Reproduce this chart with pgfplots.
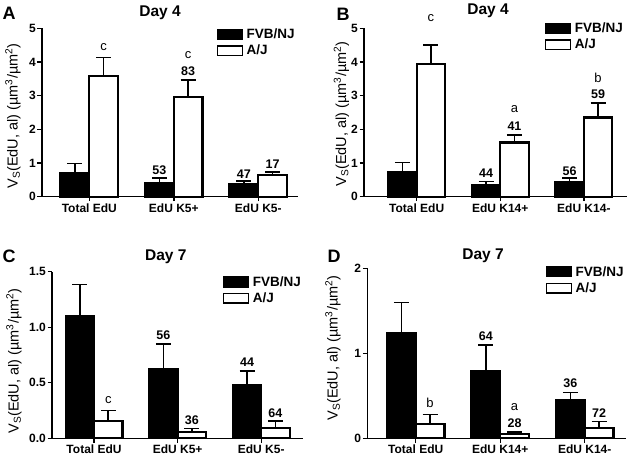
\documentclass[border=0pt]{standalone}
\usepackage{pgfplots}
\pgfplotsset{compat=1.18}
\usepackage{fontspec}
\setmainfont{Liberation Sans}
\newcommand{\tickf}{\fontsize{12}{14}\selectfont\bfseries}
\newcommand{\numf}{\fontsize{12.5}{14}\selectfont\bfseries}
\newcommand{\letf}{\fontsize{13}{14}\selectfont}
\newcommand{\titf}{\fontsize{15.5}{18}\selectfont\bfseries}
\newcommand{\panf}{\fontsize{18}{20}\selectfont\bfseries}
\newcommand{\labf}{\fontsize{14.5}{16}\selectfont}
\newcommand{\legf}{\fontsize{13.5}{15}\selectfont\bfseries}
\newcommand{\ylab}{V\textsubscript{S}(EdU, al) (µm\textsuperscript{3}/µm\textsuperscript{2})}
\pgfplotsset{
  panel/.style={
    scale only axis, clip=false,
    axis lines=left, axis line style={-, line width=1.4pt},
    tick align=outside, major tick length=4.5pt,
    tick style={line width=1.4pt, black},
    xtick={0,1,2},
    ymin=0,
    ticklabel style={font=\tickf},
    yticklabel style={inner sep=1.5pt},
    xticklabel style={inner sep=2pt},
    legend cell align=left,
    legend style={draw=none, fill=none, inner sep=0pt, outer sep=0pt,
      row sep=4pt, column sep=3pt, font=\legf,
      nodes={inner sep=0.5pt, anchor=west}},
  },
  errs/.style={
    error bars/y dir=plus, error bars/y explicit,
    error bars/error bar style={line width=1.6pt, black},
    error bars/error mark options={line width=1.6pt, mark size=7.5pt, black, rotate=90}},
  fvb/.style={ybar, bar width=0.34, bar shift=0pt, fill=black, draw=black, line width=2.2pt, errs},
  aj/.style={ybar, bar width=0.34, bar shift=0pt, fill=white, draw=black, line width=2.2pt, errs},
  numlab/.style={only marks, mark=none, nodes near coords, point meta=explicit symbolic,
    every node near coord/.style={anchor=center, font=\numf, inner sep=0pt, black}},
  letlab/.style={only marks, mark=none, nodes near coords, point meta=explicit symbolic,
    every node near coord/.style={anchor=center, font=\letf, inner sep=0pt, black}},
}
\newcommand{\legimgs}{%
  \addlegendimage{legend image code/.code={\draw[fill=black, draw=black, line width=1.6pt] (0pt,-4.8pt) rectangle (25pt,4.8pt);}}
  \addlegendentry{FVB/NJ}
  \addlegendimage{legend image code/.code={\draw[fill=white, draw=black, line width=1.6pt] (0pt,-4.8pt) rectangle (25pt,4.8pt);}}
  \addlegendentry{A/J}
}
\begin{document}
\begin{tikzpicture}[x=1pt,y=1pt]
\path[use as bounding box] (0,0) rectangle (628,469);

% ---------------- Panel A ----------------
\begin{axis}[panel, at={(42pt,272.3pt)}, anchor=south west,
  width=256pt, height=168.4pt,
  xmin=-0.56, xmax=2.47, ymax=5,
  ytick={0,1,2,3,4,5}, yticklabels={0,1,2,3,4,5},
  xticklabels={Total EdU, EdU K5+, EdU K5-},
  legend style={at={(0.682,1.0)}, anchor=north west}]
\legimgs
\addplot[forget plot, fvb] coordinates {(-0.17,0.71) +- (0,0.28) (0.83,0.40) +- (0,0.15) (1.83,0.37) +- (0,0.10)};
\addplot[forget plot, aj] coordinates {(0.17,3.58) +- (0,0.55) (1.17,2.97) +- (0,0.49) (2.17,0.64) +- (0,0.10)};
\addplot[forget plot, numlab] coordinates {(1.17,3.73) [83] (0.83,0.79) [53] (1.83,0.66) [47] (2.17,0.97) [17]};
\addplot[forget plot, letlab] coordinates {(0.17,4.45) [c] (1.17,4.21) [c]};
\end{axis}

% ---------------- Panel B ----------------
\begin{axis}[panel, at={(364pt,272.3pt)}, anchor=south west,
  width=263.3pt, height=168.4pt,
  xmin=-0.63, xmax=2.52, ymax=5,
  ytick={0,1,2,3,4,5}, yticklabels={0,1,2,3,4,5},
  xticklabels={Total EdU, EdU K14+, EdU K14-},
  legend style={at={(0.687,1.036)}, anchor=north west}]
\legimgs
\addplot[forget plot, fvb] coordinates {(-0.17,0.72) +- (0,0.29) (0.83,0.34) +- (0,0.11) (1.83,0.42) +- (0,0.14)};
\addplot[forget plot, aj] coordinates {(0.17,3.93) +- (0,0.57) (1.17,1.61) +- (0,0.22) (2.17,2.35) +- (0,0.44)};
\addplot[forget plot, numlab] coordinates {(1.17,2.08) [41] (0.83,0.71) [44] (1.83,0.77) [56] (2.17,3.04) [59]};
\addplot[forget plot, letlab] coordinates {(0.17,5.30) [c] (1.17,2.60) [a] (2.17,3.53) [b]};
\end{axis}

% ---------------- Panel C ----------------
\begin{axis}[panel, at={(52pt,30.7pt)}, anchor=south west,
  width=251pt, height=166.6pt,
  xmin=-0.503, xmax=2.50, ymax=1.5,
  ytick={0,0.5,1,1.5}, yticklabels={0.0,0.5,1.0,1.5},
  xticklabels={Total EdU, EdU K5+, EdU K5-},
  legend style={at={(0.68,0.975)}, anchor=north west}]
\legimgs
\addplot[forget plot, fvb] coordinates {(-0.17,1.104) +- (0,0.282) (0.83,0.621) +- (0,0.227) (1.83,0.48) +- (0,0.128)};
\addplot[forget plot, aj] coordinates {(0.17,0.156) +- (0,0.093) (1.17,0.054) +- (0,0.034) (2.17,0.095) +- (0,0.062)};
\addplot[forget plot, numlab] coordinates {(0.83,0.93) [56] (1.17,0.165) [36] (1.83,0.685) [44] (2.17,0.228) [64]};
\addplot[forget plot, letlab] coordinates {(0.17,0.345) [c]};
\end{axis}

% ---------------- Panel D ----------------
\begin{axis}[panel, at={(367.3pt,30.7pt)}, anchor=south west,
  width=258.4pt, height=170pt,
  xmin=-0.573, xmax=2.485, ymax=2,
  ytick={0,1,2}, yticklabels={0,1,2},
  xticklabels={Total EdU, EdU K14+, EdU K14-},
  legend style={at={(0.69,1.015)}, anchor=north west}]
\legimgs
\addplot[forget plot, fvb] coordinates {(-0.17,1.235) +- (0,0.365) (0.83,0.795) +- (0,0.30) (1.83,0.45) +- (0,0.09)};
\addplot[forget plot, aj] coordinates {(0.17,0.168) +- (0,0.11) (1.17,0.05) +- (0,0.024) (2.17,0.118) +- (0,0.082)};
\addplot[forget plot, numlab] coordinates {(0.83,1.20) [64] (1.17,0.176) [28] (1.83,0.65) [36] (2.17,0.30) [72]};
\addplot[forget plot, letlab] coordinates {(0.17,0.42) [b] (1.17,0.365) [a]};
\end{axis}

% titles, panel letters, y labels
\node[font=\titf] at (160,456.5) {Day 4};
\node[font=\titf] at (488,458) {Day 4};
\node[font=\titf] at (165.8,212.3) {Day 7};
\node[font=\titf] at (483,213.2) {Day 7};
\node[font=\panf] at (9,455.7) {A};
\node[font=\panf] at (343,455) {B};
\node[font=\panf] at (9,212.3) {C};
\node[font=\panf] at (334,213) {D};
\node[font=\labf, rotate=90] at (13,353) {\ylab};
\node[font=\labf, rotate=90] at (341.5,355) {\ylab};
\node[font=\labf, rotate=90] at (14,108) {\ylab};
\node[font=\labf, rotate=90] at (333,121) {\ylab};
\end{tikzpicture}
\end{document}
